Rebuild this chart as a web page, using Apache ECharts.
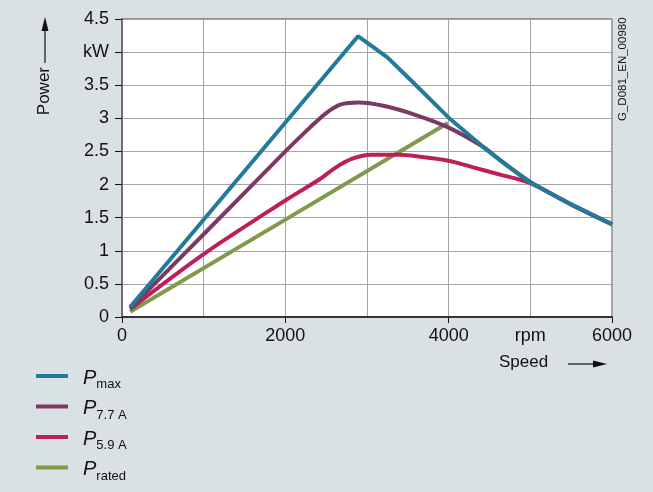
<!DOCTYPE html>
<html>
<head>
<meta charset="utf-8">
<script src="https://cdn.jsdelivr.net/npm/echarts@6/dist/echarts.min.js"></script>
<style>
  html, body { margin: 0; padding: 0; background: #d9e1e5; }
  #chart { width: 653px; height: 492px; }
</style>
</head>
<body>
<div id="chart"></div>
<script>
// speed in rpm, power in kW
var pMax = [[100, 0.15], [2890, 4.24], [3250, 3.92], [3550, 3.56], [4000, 3.01], [4420, 2.57], [4700, 2.30], [5000, 2.03], [5500, 1.70], [6000, 1.40]];
var p77 = [[100, 0.13], [1000, 1.25], [2000, 2.50], [2300, 2.86], [2500, 3.08], [2680, 3.21], [2900, 3.24], [3200, 3.19], [3600, 3.05], [4000, 2.86], [4420, 2.57], [4630, 2.37], [5000, 2.04], [5500, 1.70], [6000, 1.40]];
var p59 = [[100, 0.12], [1000, 0.95], [2000, 1.76], [2420, 2.08], [2620, 2.26], [2820, 2.39], [3050, 2.45], [3400, 2.45], [3650, 2.42], [4000, 2.36], [4300, 2.26], [4630, 2.15], [5000, 2.02], [5500, 1.70], [6000, 1.40]];
var pRated = [[100, 0.08], [2000, 1.47], [3990, 2.93]];

var seriesNames = ['Pmax', 'P7.7A', 'P5.9A', 'Prated'];
var legendLabels = {
  'Pmax': '{p|P}{s|max}',
  'P7.7A': '{p|P}{s|7.7 A}',
  'P5.9A': '{p|P}{s|5.9 A}',
  'Prated': '{p|P}{s|rated}'
};
var colors = ['#237a9b', '#7a3a62', '#bd1f5c', '#7f9a4b'];

var xLabels = { 0: '0', 2000: '2000', 4000: '4000', 5000: 'rpm', 6000: '6000' };
var FONT = '"Liberation Sans", Arial, sans-serif';

var chart = echarts.init(document.getElementById('chart'));

function line(name, data, idx, smooth) {
  return {
    name: name,
    type: 'line',
    data: data,
    showSymbol: false,
    smooth: smooth,
    xAxisIndex: 0,
    yAxisIndex: 0,
    lineStyle: { color: colors[idx], width: 4 },
    itemStyle: { color: colors[idx] },
    z: 10 - idx
  };
}

var option = {
  backgroundColor: '#d9e1e5',
  animation: false,
  textStyle: { fontFamily: FONT },
  grid: {
    left: 122, right: 41, top: 19, bottom: 175,
    show: true, backgroundColor: '#ffffff', borderColor: '#444', borderWidth: 1
  },
  xAxis: [{
    type: 'value', min: 0, max: 6000, interval: 1000,
    axisLine: { show: true, lineStyle: { color: '#111', width: 1.5 } },
    axisTick: { show: false },
    splitLine: { show: true, lineStyle: { color: '#a2a6a8', width: 1 } },
    axisLabel: {
      color: '#111', fontSize: 18, margin: 10, fontFamily: FONT,
      formatter: function (v) { return xLabels[v] || ''; }
    }
  }, {
    type: 'value', min: 0, max: 6000, interval: 2000, position: 'bottom',
    axisLine: { show: false },
    axisTick: { show: true, length: 6, lineStyle: { color: '#111' } },
    axisLabel: { show: false },
    splitLine: { show: false }
  }],
  yAxis: [{
    type: 'value', min: 0, max: 4.5, interval: 0.5,
    axisLine: { show: true, lineStyle: { color: '#111', width: 1.5 } },
    axisTick: { show: true, length: 7, lineStyle: { color: '#111' } },
    splitLine: { show: true, lineStyle: { color: '#a2a6a8', width: 1 } },
    axisLabel: {
      color: '#111', fontSize: 18, margin: 13, fontFamily: FONT,
      formatter: function (v) { return v === 4 ? 'kW' : String(v); }
    }
  }, {
    type: 'value', min: 0, max: 4.5, position: 'right',
    axisLine: { show: true, lineStyle: { color: '#707070', width: 2 } },
    axisTick: { show: false }, axisLabel: { show: false }, splitLine: { show: false }
  }],
  legend: {
    orient: 'vertical', left: 36, top: 368, height: 124, padding: 0,
    data: seriesNames,
    icon: 'rect', itemWidth: 32, itemHeight: 4, itemGap: 7.5,
    formatter: function (n) { return legendLabels[n]; },
    textStyle: {
      color: '#111',
      rich: {
        p: { fontSize: 20, fontStyle: 'italic', fontFamily: FONT, color: '#111', lineHeight: 24, verticalAlign: 'bottom', padding: [0, 0, 0, 10] },
        s: { fontSize: 13, fontFamily: FONT, color: '#111', lineHeight: 24, verticalAlign: 'bottom', padding: [0, 0, -3, 0] }
      }
    }
  },
  graphic: [
    { type: 'text', left: 36, top: 67, rotation: Math.PI / 2,
      style: { text: 'Power', font: '17px ' + FONT, fill: '#111' } },
    { type: 'line', shape: { x1: 45, y1: 63, x2: 45, y2: 28 }, style: { stroke: '#111', lineWidth: 1.2 } },
    { type: 'polygon', shape: { points: [[45, 17], [41.5, 31], [48.5, 31]] }, style: { fill: '#111' } },
    { type: 'text', left: 499, top: 354,
      style: { text: 'Speed', font: '17px ' + FONT, fill: '#111' } },
    { type: 'line', shape: { x1: 568, y1: 364, x2: 596, y2: 364 }, style: { stroke: '#111', lineWidth: 1.2 } },
    { type: 'polygon', shape: { points: [[607, 364], [593, 360.5], [593, 367.5]] }, style: { fill: '#111' } },
    { type: 'text', x: 617, y: 121, rotation: Math.PI / 2,
      style: { text: 'G_D081_EN_00980', font: '11.5px ' + FONT, fill: '#111' } }
  ],
  series: [
    line('Pmax', pMax, 0, false),
    line('P7.7A', p77, 1, 0.3),
    line('P5.9A', p59, 2, 0.3),
    line('Prated', pRated, 3, false)
  ]
};

chart.setOption(option);
</script>
</body>
</html>
